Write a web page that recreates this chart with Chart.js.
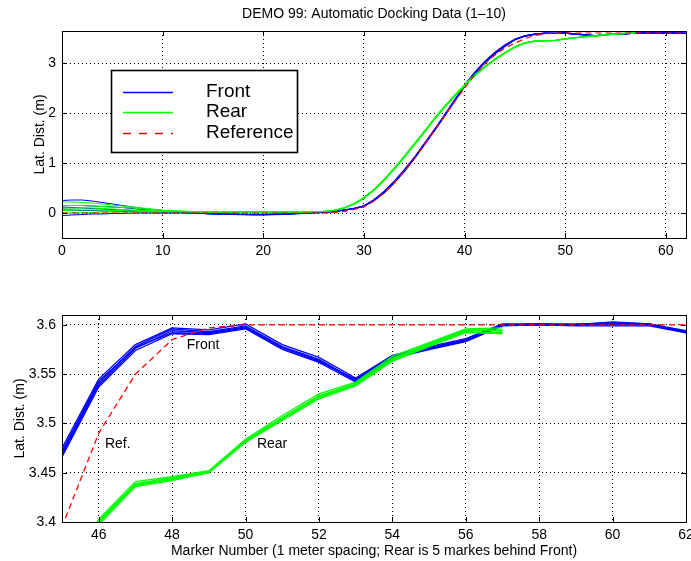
<!DOCTYPE html>
<html>
<head>
<meta charset="utf-8">
<script src="https://cdn.jsdelivr.net/npm/chart.js@4.4.1/dist/chart.umd.min.js"></script>
<style>
  body { margin: 0; background: #fff; }
  canvas { display: block; }
</style>
</head>
<body>
<canvas id="chartTop" width="691" height="280"></canvas>
<canvas id="chartBottom" width="691" height="281"></canvas>
<script>
// marker numbers 0..62
var markers = [0,1,2,3,4,5,6,7,8,9,10,11,12,13,14,15,16,17,18,19,20,
  21,22,23,24,25,26,27,28,29,30,31,32,33,34,35,36,37,38,39,40,
  41,42,43,44,45,46,47,48,49,50,51,52,53,54,55,56,57,58,59,60,61,62];

// front sensor, runs
var front1 = [0.25,0.26,0.26,0.24,0.21,0.18,0.15,0.12,0.09,0.07,0.05,0.03,0.015,
  0.0,-0.01,-0.02,-0.025,-0.03,-0.03,-0.035,-0.035,-0.03,-0.025,-0.015,-0.005,
  0.005,0.015,0.03,0.06,0.09,0.14,0.26,0.42,0.62,0.85,1.10,1.38,1.66,1.95,2.25,2.55,2.80,3.02,3.20,3.35,
  3.475,3.545,3.580,3.597,3.595,3.601,3.580,3.567,3.546,3.569,3.578,3.586,3.601,3.601,3.601,3.602,3.601,3.594];
var front2 = [0.14,0.15,0.15,0.14,0.13,0.12,0.11,0.09,0.07,0.05,0.03,0.02,0.01,
  0.0,-0.01,-0.015,-0.02,-0.025,-0.03,-0.03,-0.03,-0.025,-0.02,-0.015,-0.005,
  0.005,0.015,0.03,0.06,0.09,0.145,0.265,0.43,0.63,0.86,1.11,1.39,1.67,1.96,2.26,2.56,2.81,3.03,3.21,3.36,
  3.470,3.541,3.578,3.596,3.593,3.599,3.578,3.565,3.544,3.568,3.577,3.585,3.600,3.601,3.600,3.601,3.601,3.593];
var front3 = [0.06,0.06,0.05,0.05,0.04,0.04,0.03,0.03,0.02,0.02,0.01,0.01,0.01,
  0.0,-0.005,-0.01,-0.015,-0.02,-0.025,-0.025,-0.025,-0.02,-0.015,-0.01,0.0,
  0.005,0.015,0.03,0.055,0.085,0.135,0.255,0.41,0.61,0.84,1.09,1.37,1.65,1.94,2.24,2.54,2.79,3.01,3.19,3.34,
  3.468,3.539,3.576,3.594,3.592,3.598,3.577,3.564,3.543,3.567,3.576,3.584,3.600,3.600,3.600,3.600,3.600,3.593];
var front4 = [-0.05,-0.04,-0.03,-0.02,-0.02,-0.01,-0.01,0.0,0.0,0.0,0.0,0.0,0.005,
  0.0,-0.01,-0.02,-0.025,-0.03,-0.035,-0.04,-0.04,-0.035,-0.03,-0.02,-0.01,
  0.0,0.01,0.025,0.055,0.085,0.13,0.25,0.40,0.60,0.83,1.08,1.36,1.64,1.93,2.23,2.53,2.78,3.00,3.18,3.33,
  3.466,3.537,3.574,3.591,3.590,3.596,3.575,3.562,3.542,3.566,3.575,3.583,3.599,3.600,3.599,3.599,3.599,3.592];
var front5 = [0.10,0.11,0.10,0.09,0.08,0.07,0.06,0.05,0.04,0.03,0.02,0.02,0.01,
  0.0,-0.01,-0.015,-0.02,-0.025,-0.03,-0.03,-0.03,-0.03,-0.025,-0.015,-0.005,
  0.005,0.02,0.035,0.06,0.095,0.14,0.26,0.42,0.62,0.85,1.10,1.38,1.66,1.95,2.25,2.55,2.80,3.02,3.20,3.35,
  3.472,3.543,3.577,3.592,3.591,3.597,3.576,3.563,3.545,3.568,3.576,3.584,3.600,3.600,3.600,3.603,3.601,3.592];

// rear sensor, runs (ends at marker 57)
var rear1 = [0.22,0.22,0.21,0.20,0.18,0.16,0.14,0.12,0.10,0.08,0.06,0.05,0.04,
  0.03,0.025,0.025,0.02,0.02,0.02,0.02,0.02,0.02,0.02,0.02,0.02,
  0.025,0.03,0.05,0.10,0.18,0.30,0.46,0.66,0.88,1.12,1.37,1.62,1.88,2.12,2.34,2.55,2.75,2.92,3.07,3.20,
  3.325,3.403,3.441,3.446,3.452,3.484,3.508,3.530,3.542,3.568,3.582,3.596,3.597,
  null,null,null,null,null];
var rear2 = [0.15,0.15,0.15,0.14,0.13,0.12,0.11,0.10,0.08,0.07,0.05,0.04,0.03,
  0.025,0.02,0.02,0.02,0.02,0.02,0.02,0.02,0.02,0.02,0.02,0.02,
  0.025,0.03,0.05,0.10,0.185,0.305,0.465,0.665,0.885,1.125,1.375,1.625,1.885,2.125,2.345,2.555,2.755,2.925,3.075,3.205,
  3.322,3.401,3.439,3.445,3.451,3.483,3.506,3.528,3.541,3.566,3.581,3.595,3.595,
  null,null,null,null,null];
var rear3 = [0.10,0.10,0.10,0.10,0.09,0.08,0.07,0.06,0.05,0.05,0.04,0.03,0.03,
  0.025,0.02,0.02,0.02,0.02,0.02,0.02,0.02,0.02,0.02,0.02,0.02,
  0.025,0.03,0.05,0.095,0.175,0.295,0.455,0.655,0.875,1.115,1.365,1.615,1.875,2.115,2.335,2.545,2.745,2.915,3.065,3.195,
  3.320,3.399,3.438,3.444,3.451,3.482,3.505,3.527,3.540,3.565,3.580,3.594,3.594,
  null,null,null,null,null];
var rear4 = [0.05,0.06,0.06,0.06,0.06,0.05,0.05,0.04,0.04,0.03,0.03,0.03,0.03,
  0.025,0.02,0.02,0.02,0.02,0.02,0.02,0.02,0.02,0.02,0.02,0.02,
  0.025,0.035,0.055,0.105,0.185,0.31,0.47,0.67,0.89,1.13,1.38,1.63,1.89,2.13,2.35,2.56,2.76,2.93,3.08,3.21,
  3.318,3.397,3.436,3.442,3.450,3.481,3.503,3.525,3.538,3.563,3.578,3.592,3.592,
  null,null,null,null,null];
var rear5 = [0.0,0.0,0.01,0.01,0.02,0.02,0.02,0.02,0.02,0.02,0.02,0.02,0.02,
  0.02,0.02,0.02,0.02,0.02,0.02,0.02,0.02,0.02,0.02,0.02,0.02,
  0.025,0.03,0.05,0.10,0.18,0.30,0.46,0.66,0.88,1.12,1.37,1.62,1.88,2.12,2.34,2.55,2.75,2.92,3.07,3.20,
  3.320,3.400,3.437,3.443,3.450,3.481,3.504,3.526,3.539,3.564,3.579,3.593,3.591,
  null,null,null,null,null];

// reference path
var reference = [0,0,0,0,0,0,0,0,0,0,0,0,0,0,0,0,0,0,0,0,0,0,0,0,0,0,0,
  0.01,0.03,0.07,0.12,0.24,0.40,0.60,0.83,1.08,1.36,1.65,1.94,2.22,2.50,2.76,2.98,3.16,3.30,
  3.395,3.49,3.55,3.585,3.597,
  3.6,3.6,3.6,3.6,3.6,3.6,3.6,3.6,3.6,3.6,3.6,3.6,3.6];

var frontRuns = [front1, front2, front3, front4, front5];
var rearRuns = [rear1, rear2, rear3, rear4, rear5];

var topXTicks = [0, 10, 20, 30, 40, 50, 60];
var topYTicks = [0, 1, 2, 3];
var bottomXTicks = [46, 48, 50, 52, 54, 56, 58, 60, 62];
var bottomYTicks = [3.4, 3.45, 3.5, 3.55, 3.6];
var legendLabels = ['Front', 'Rear', 'Reference'];

Chart.defaults.font.family = "'Liberation Sans', Arial, sans-serif";
Chart.defaults.font.size = 14;
Chart.defaults.color = '#000';

var BLUE = '#0000ff', GREEN = '#00ff00', RED = '#ff0000';

function points(run) {
  return markers.map(function (m, i) { return {x: m, y: run[i]}; });
}

function datasets(lw) {
  var sets = [{label: 'Reference', data: points(reference), borderColor: RED, borderDash: [6, 4], borderWidth: lw}];
  rearRuns.forEach(function (r) { sets.push({label: 'Rear', data: points(r), borderColor: GREEN, borderWidth: lw}); });
  frontRuns.forEach(function (r) { sets.push({label: 'Front', data: points(r), borderColor: BLUE, borderWidth: lw}); });
  return sets;
}

// box round the plot and matlab style inner ticks
var frame = {
  id: 'frame',
  afterDatasetsDraw: function (chart) {
    var ctx = chart.ctx, a = chart.chartArea, x = chart.scales.x, y = chart.scales.y;
    ctx.save();
    ctx.strokeStyle = '#000';
    ctx.lineWidth = 1;
    ctx.setLineDash([]);
    ctx.strokeRect(Math.round(a.left) + 0.5, Math.round(a.top) + 0.5, Math.round(a.right - a.left), Math.round(a.bottom - a.top));
    ctx.beginPath();
    x.ticks.forEach(function (t) {
      var p = Math.round(x.getPixelForValue(t.value)) + 0.5;
      ctx.moveTo(p, a.bottom); ctx.lineTo(p, a.bottom - 5);
      ctx.moveTo(p, a.top); ctx.lineTo(p, a.top + 5);
    });
    y.ticks.forEach(function (t) {
      var p = Math.round(y.getPixelForValue(t.value)) + 0.5;
      ctx.moveTo(a.left, p); ctx.lineTo(a.left + 5, p);
      ctx.moveTo(a.right, p); ctx.lineTo(a.right - 5, p);
    });
    ctx.stroke();
    ctx.restore();
  }
};

var legendBox = {
  id: 'legendBox',
  afterDraw: function (chart) {
    var ctx = chart.ctx;
    ctx.save();
    ctx.fillStyle = '#fff';
    ctx.fillRect(111, 70, 187, 82);
    ctx.strokeStyle = '#000';
    ctx.lineWidth = 1.6;
    ctx.strokeRect(111.5, 70.5, 186, 82);
    legendLabels.forEach(function (lab, i) {
      var ds = chart.data.datasets.find(function (d) { return d.label === lab; });
      var yy = 91.5 + i * 20.5;
      ctx.strokeStyle = ds.borderColor;
      ctx.lineWidth = 1.4;
      ctx.setLineDash(ds.borderDash ? [8, 8] : []);
      ctx.beginPath();
      ctx.moveTo(123, Math.round(yy) + 0.5);
      ctx.lineTo(173, Math.round(yy) + 0.5);
      ctx.stroke();
      ctx.setLineDash([]);
      ctx.fillStyle = '#000';
      ctx.font = "19px 'Liberation Sans', Arial, sans-serif";
      ctx.textBaseline = 'middle';
      ctx.fillText(lab, 206, yy);
    });
    ctx.restore();
  }
};

var notes = {
  id: 'notes',
  afterDatasetsDraw: function (chart) {
    var ctx = chart.ctx, x = chart.scales.x, y = chart.scales.y;
    ctx.save();
    ctx.fillStyle = '#000';
    ctx.font = "14px 'Liberation Sans', Arial, sans-serif";
    ctx.textBaseline = 'middle';
    [['Front', 48.4, 3.579], ['Ref.', 46.17, 3.479], ['Rear', 50.31, 3.479]].forEach(function (n) {
      ctx.fillText(n[0], x.getPixelForValue(n[1]), y.getPixelForValue(n[2]));
    });
    ctx.restore();
  }
};

function xAxis(min, max, tickList, height, title) {
  return {
    type: 'linear', min: min, max: max,
    afterBuildTicks: function (s) { s.ticks = tickList.map(function (v) { return {value: v}; }); },
    afterFit: function (s) { s.height = height; s.paddingLeft = 0; s.paddingRight = 0; },
    ticks: {padding: 5, autoSkip: false, maxRotation: 0, callback: function (v) { return String(v); }},
    grid: {color: '#000', lineWidth: 1, drawTicks: false},
    border: {display: false, dash: [1, 3]},
    title: title
  };
}

function yAxis(min, max, tickList, titlePad) {
  return {
    min: min, max: max,
    afterBuildTicks: function (s) { s.ticks = tickList.map(function (v) { return {value: v}; }); },
    afterFit: function (s) { s.width = 62; s.paddingTop = 0; s.paddingBottom = 0; },
    ticks: {padding: 6, autoSkip: false, callback: function (v) { return String(v); }},
    grid: {color: '#000', lineWidth: 1, drawTicks: false},
    border: {display: false, dash: [1, 3]},
    title: {display: true, text: 'Lat. Dist. (m)', padding: {top: titlePad, bottom: 0}}
  };
}

var common = {
  responsive: false,
  animation: false,
  elements: {point: {radius: 0}, line: {tension: 0, fill: false}},
  events: []
};

new Chart(document.getElementById('chartTop'), {
  type: 'line',
  data: {datasets: datasets(1.2)},
  options: Object.assign({}, common, {
    layout: {padding: {left: 0, right: 5, top: 0, bottom: 0}},
    plugins: {
      legend: {display: false},
      tooltip: {enabled: false},
      title: {
        display: true, fullSize: false,
        text: 'DEMO 99: Automatic Docking Data (1\u201310)',
        font: {size: 14, weight: 'normal'}, color: '#000',
        padding: {top: 5.6, bottom: 8.6}
      }
    },
    scales: {
      x: xAxis(0, 62, topXTicks, 42, {display: false}),
      y: yAxis(-0.5, 3.64, topYTicks, 31.6)
    }
  }),
  plugins: [frame, legendBox]
});

new Chart(document.getElementById('chartBottom'), {
  type: 'line',
  data: {datasets: datasets(1.3)},
  options: Object.assign({}, common, {
    layout: {padding: {left: 0, right: 5, top: 35, bottom: 0}},
    plugins: {legend: {display: false}, tooltip: {enabled: false}},
    scales: {
      x: xAxis(45, 62, bottomXTicks, 39, {
        display: true,
        text: 'Marker Number (1 meter spacing; Rear is 5 markes behind Front)',
        padding: {top: 0, bottom: 1.5}
      }),
      y: yAxis(3.4, 3.61, bottomYTicks, 11.6)
    }
  }),
  plugins: [frame, notes]
});
</script>
</body>
</html>
